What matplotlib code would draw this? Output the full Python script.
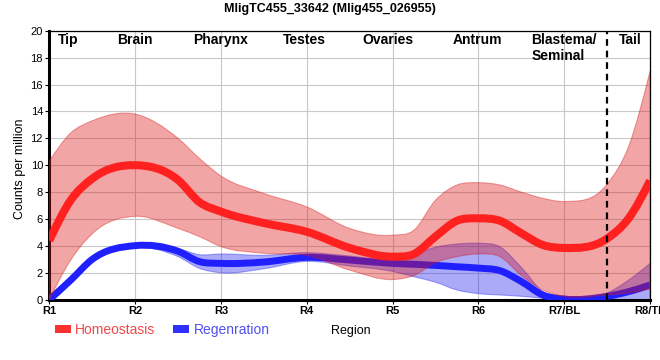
import matplotlib

matplotlib.use("Agg")
import matplotlib.pyplot as plt  # noqa: E402
import numpy as np  # noqa: E402
from matplotlib.patches import Patch, PathPatch  # noqa: E402
from matplotlib.path import Path  # noqa: E402

plt.rcParams["font.family"] = ["Liberation Sans", "DejaVu Sans"]

TITLE = "MligTC455_33642 (Mlig455_026955)"

# sample positions along the body axis (R1 .. R8)
positions = [1, 1.25, 1.5, 2, 2.5, 2.75, 3, 3.5, 4, 4.5, 5, 5.25,
             5.5, 5.75, 6, 6.25, 6.5, 6.75, 7, 7.5, 7.75, 8]
tick_pos = [1, 2, 3, 4, 5, 6, 7, 8]
tick_labels = ["R1", "R2", "R3", "R4", "R5", "R6", "R7/BL", "R8/TL"]

region_names = ["Tip", "Brain", "Pharynx", "Testes", "Ovaries", "Antrum",
                "Blastema/\nSeminal", "Tail"]
region_pos = [1.22, 2.0, 3.0, 3.97, 4.95, 5.99, 7.0, 7.77]

homeo_mean = [4.4, 7.4, 9.0, 10.0, 8.9, 7.25, 6.55, 5.7, 5.05, 3.85,
              3.2, 3.4, 4.7, 5.87, 6.05, 5.87, 4.94, 4.07, 3.85, 4.55, 6.05,
              8.85]
homeo_upper = [10.3, 12.4, 13.3, 13.8, 12.0, 10.5, 9.2, 7.9, 6.9,
               5.3, 4.8, 5.18, 7.4, 8.53, 8.7, 8.53, 8.0, 7.54, 7.3, 8.6,
               11.4, 17.0]
homeo_lower = [0.0, 2.95, 4.9, 6.2, 5.3, 4.69, 3.95, 3.45, 3.3, 2.2,
               1.5, 1.8, 2.75, 3.2, 3.4, 3.2, 1.8, 0.72, 0.25, 0.35, 0.5,
               0.8]

regen_mean = [0.0, 1.46, 3.0, 4.02, 3.6, 2.83, 2.7, 2.8, 3.15, 2.95,
              2.7, 2.63, 2.55, 2.45, 2.35, 2.16, 1.35, 0.35, 0.05, 0.25,
              0.6, 1.1]
regen_upper = [0.05, 1.5, 3.1, 4.1, 3.8, 3.35, 3.4, 3.3, 3.5, 3.25,
               3.0, 3.4, 3.9, 4.14, 4.2, 3.94, 2.4, 0.6, 0.1, 0.5, 1.46,
               2.7]
regen_lower = [0.0, 1.4, 2.9, 3.9, 3.2, 2.33, 2.0, 2.3, 2.85, 2.5,
               2.1, 1.7, 1.3, 0.72, 0.45, 0.35, 0.25, 0.1, -0.1, 0.0, 0.0,
               -0.1]

RED = "#ff2020"
RED_FILL = "#dc1414"
BLUE = "#2020ff"
BLUE_FILL = "#2020f0"


def bezier_verts(x, y):
    """Smooth cubic through the samples, as Bezier control points."""
    x = np.asarray(x, float)
    y = np.asarray(y, float)
    h = np.diff(x)
    d = np.diff(y) / h
    m = np.zeros_like(y)
    # weighted three-point slopes (no monotone clamp -> no corners)
    m[1:-1] = (d[:-1] * h[1:] + d[1:] * h[:-1]) / (h[:-1] + h[1:])
    m[0] = (3 * d[0] - m[1]) / 2
    m[-1] = (3 * d[-1] - m[-2]) / 2
    verts = [(x[0], y[0])]
    for i in range(len(h)):
        verts.append((x[i] + h[i] / 3, y[i] + m[i] * h[i] / 3))
        verts.append((x[i + 1] - h[i] / 3, y[i + 1] - m[i + 1] * h[i] / 3))
        verts.append((x[i + 1], y[i + 1]))
    return verts


def curve_path(x, y):
    verts = bezier_verts(x, y)
    codes = [Path.MOVETO] + [Path.CURVE4] * (len(verts) - 1)
    return Path(verts, codes)


def band_path(x, lo, hi):
    up = bezier_verts(x, hi)
    dn = bezier_verts(x, lo)[::-1]
    verts = up + dn + [up[0]]
    codes = ([Path.MOVETO] + [Path.CURVE4] * (len(up) - 1)
             + [Path.LINETO] + [Path.CURVE4] * (len(dn) - 1)
             + [Path.CLOSEPOLY])
    return Path(verts, codes)


def draw_series(ax, mean, lo, hi, line_c, fill_c, lw, z):
    ax.add_patch(PathPatch(band_path(positions, lo, hi), facecolor=fill_c,
                           edgecolor=fill_c, alpha=0.38, lw=0.8, zorder=z))
    ax.add_patch(PathPatch(curve_path(positions, mean), facecolor="none",
                           edgecolor=line_c, lw=lw, capstyle="butt",
                           joinstyle="round", zorder=z + 1))


fig = plt.figure(figsize=(6.6, 3.6), dpi=100)
ax = fig.add_axes([0.0747, 0.1675, 0.9103, 0.7472])

draw_series(ax, regen_mean, regen_lower, regen_upper, BLUE, BLUE_FILL, 5.0, 2)
draw_series(ax, homeo_mean, homeo_lower, homeo_upper, RED, RED_FILL, 5.8, 4)

ax.axvline(7.5, color="black", lw=1.6, ls=(0, (3, 2.2)), zorder=7)

ax.set_xlim(1, 8)
ax.set_ylim(0, 20)
ax.set_xticks(tick_pos)
ax.set_xticklabels(tick_labels, fontweight="bold", fontsize=8)
ax.set_yticks(np.arange(0, 21, 2))
ax.tick_params(axis="y", labelsize=8, length=3, width=0.8, pad=1.5)
ax.tick_params(axis="x", length=3, width=0.8, pad=1.5)
ax.grid(True, color="#c8c8c8", lw=0.8)
ax.set_axisbelow(True)

for side in ("left", "bottom"):
    ax.spines[side].set_linewidth(2.2)
for side in ("top", "right"):
    ax.spines[side].set_linewidth(0.9)

for name, xp in zip(region_names, region_pos):
    ax.text(xp, 19.85, name, ha="center", va="top", fontsize=10,
            fontweight="bold", multialignment="left", zorder=8)

fig.text(0.5, 1 - 9 / 360, TITLE, ha="center", va="center", fontsize=9,
         fontweight="bold")
fig.text(20 / 660, 1 - 169 / 360, "Counts per million", rotation=90,
         ha="center", va="center", fontsize=9)
fig.text(351 / 660, 1 - 331 / 360, "Region", ha="center", va="center",
         fontsize=9)

handles = [Patch(facecolor="#ff3030", edgecolor="none"),
           Patch(facecolor="#3030ff", edgecolor="none")]
leg = fig.legend(handles, ["Homeostasis", "Regenration"], ncol=2,
                 loc="center left", bbox_to_anchor=(55 / 660, 1 - 330 / 360),
                 frameon=False, fontsize=10, handlelength=1.15,
                 handleheight=0.5, handletextpad=0.3, columnspacing=1.3,
                 borderpad=0, borderaxespad=0)
for txt, c in zip(leg.get_texts(), ["#f04848", "#5050f0"]):
    txt.set_color(c)

fig.savefig("out.png", dpi=100)
